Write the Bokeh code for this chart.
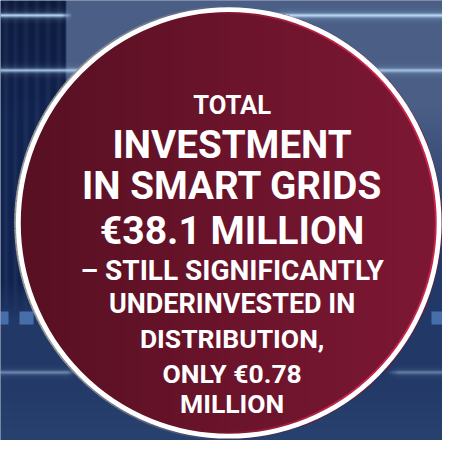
import numpy as np
from bokeh.plotting import figure
from bokeh.models import Range1d, ColumnDataSource
from bokeh.embed import file_html
from bokeh.resources import INLINE
from bokeh.core.properties import value

# ---- content -------------------------------------------------------------
lines = ["TOTAL", "INVESTMENT", "IN SMART GRIDS", "€38.1 MILLION",
         "– STILL SIGNIFICANTLY", "UNDERINVESTED IN", "DISTRIBUTION,",
         "ONLY €0.78", "MILLION"]
baselines = [108, 149, 192, 239, 280, 315, 350, 387, 418]
sizes_ref = [26.5, 40, 40, 40.5, 29, 28, 27.5, 27.5, 27.5]

# ---- geometry / style ----------------------------------------------------
W, H = 458, 456
PW, PH = 442, 440
S = PW / W
cx, cy = 236.5, 230.5
ax_, by_ = 220.5, 223.5   # outer radii of the white ring

# ---- background picture (decorative) ------------------------------------
yy, xx = np.mgrid[0:H, 0:W].astype(float)

def c(*v):
    return np.array(v, dtype=float)

t = np.clip((yy - 110) / 150, 0, 1)[..., None]
rgb = c(74, 94, 134) * (1 - t) + c(34, 56, 102) * t
t2 = np.clip((yy - 380) / 76, 0, 1)[..., None]
rgb = rgb * (1 - t2) + c(40, 66, 112) * t2

# left dark panel with vertical streaks
lm = (np.clip((68 - xx) / 2.0, 0, 1) * np.clip((330 - yy) / 40, 0, 1))[..., None]
tp = np.clip(yy / 120, 0, 1)[..., None]
panel = c(12, 26, 62) * (1 - tp) + c(16, 34, 78) * tp
streak = np.zeros_like(xx)
for sx in [5, 15, 26, 37, 49, 60]:
    streak += np.exp(-((xx - sx) ** 2) / (2 * 1.8 ** 2))
panel = panel + (streak * 12)[..., None]
rgb = rgb * (1 - lm) + panel * lm

def smooth(x0, x1, edge=12):
    return np.clip((xx - x0) / edge, 0, 1) * np.clip((x1 - xx) / edge, 0, 1)

def glow(y0, x0, x1, amp, sig=1.5, wide=4.0):
    g = amp * (np.exp(-((yy - y0) ** 2) / (2 * sig ** 2))
               + 0.25 * np.exp(-((yy - y0) ** 2) / (2 * wide ** 2)))
    return np.clip(g * smooth(x0, x1), 0, 1)[..., None]

gcol = c(185, 220, 250)
for (y0, x0, x1, amp) in [(15, -20, 75, 0.8), (15, 280, 480, 0.85),
                          (72, -20, 220, 0.7), (72, 380, 480, 0.65),
                          (385, -20, 80, 0.4), (385, 400, 480, 0.35)]:
    gg = glow(y0, x0, x1, amp)
    rgb = rgb * (1 - gg) + gcol * gg

# small light dashes
for (x0, x1) in [(-5, 7), (20, 33), (447, 470)]:
    m = ((xx >= x0) & (xx <= x1) & (yy >= 322) & (yy <= 335))[..., None]
    rgb = np.where(m, c(70, 110, 170), rgb)

# disc with horizontal gradient
inside = (((xx - cx) / ax_) ** 2 + ((yy - cy) / by_) ** 2) <= 1.0
tg = np.clip((xx - 16) / 441, 0, 1)[..., None]
disc = c(88, 16, 34) * (1 - tg) + c(126, 24, 52) * tg
rgb = np.where(inside[..., None], disc, rgb)

img = np.empty((H, W), dtype=np.uint32)
view = img.view(dtype=np.uint8).reshape((H, W, 4))
view[:, :, :3] = np.clip(rgb, 0, 255).astype(np.uint8)
view[:, :, 3] = 255

# ---- figure ----------------------------------------------------------------
p = figure(width=PW, height=PH, x_range=Range1d(0, W), y_range=Range1d(H, 0),
           output_backend="svg", toolbar_location=None, min_border=0,
           x_axis_location=None, y_axis_location=None)
p.grid.visible = False
p.outline_line_color = None
p.background_fill_color = "#2a3f6a"
p.border_fill_color = "white"

p.image_rgba(image=[img], x=0, y=0, dw=W, dh=H)

# ring details: grey shadow on left, crimson inner edge on right
N = 240
th = np.linspace(0, 2 * np.pi, N + 1)
def ring_segments(ra, rb):
    xs, ys = [], []
    for i in range(N):
        a = th[i:i + 2]
        xs.append(list(cx + ra * np.cos(a)))
        ys.append(list(cy + rb * np.sin(a)))
    return xs, ys

mid = (th[:-1] + th[1:]) / 2
xs, ys = ring_segments(ax_ + 0.5, by_ + 0.5)
p.multi_line(xs=xs, ys=ys, line_color="#9a9a9a", line_width=2.5,
             line_alpha=list(np.clip(-np.cos(mid) * 1.2, 0, 1)))
xs, ys = ring_segments(ax_ - 5.8, by_ - 5.8)
p.multi_line(xs=xs, ys=ys, line_color="#c9244e", line_width=2.2,
             line_alpha=list(np.clip(np.cos(mid) * 1.5 + 0.2, 0, 1)))

p.ellipse(x=[cx], y=[cy], width=[2 * (ax_ - 2.5)], height=[2 * (by_ - 2.5)],
          fill_color=None, line_color="white", line_width=5 * S)

src = ColumnDataSource(dict(x=[240] * len(lines), y=baselines, text=lines,
                            fs=[f"{s * S:.1f}px" for s in sizes_ref]))
p.text(x="x", y="y", text="text", source=src, text_font_size="fs",
       text_font=value("Roboto"), text_font_style="bold", text_color="white",
       text_align="center", text_baseline="alphabetic")

open("out.html", "w").write(file_html(p, INLINE))
